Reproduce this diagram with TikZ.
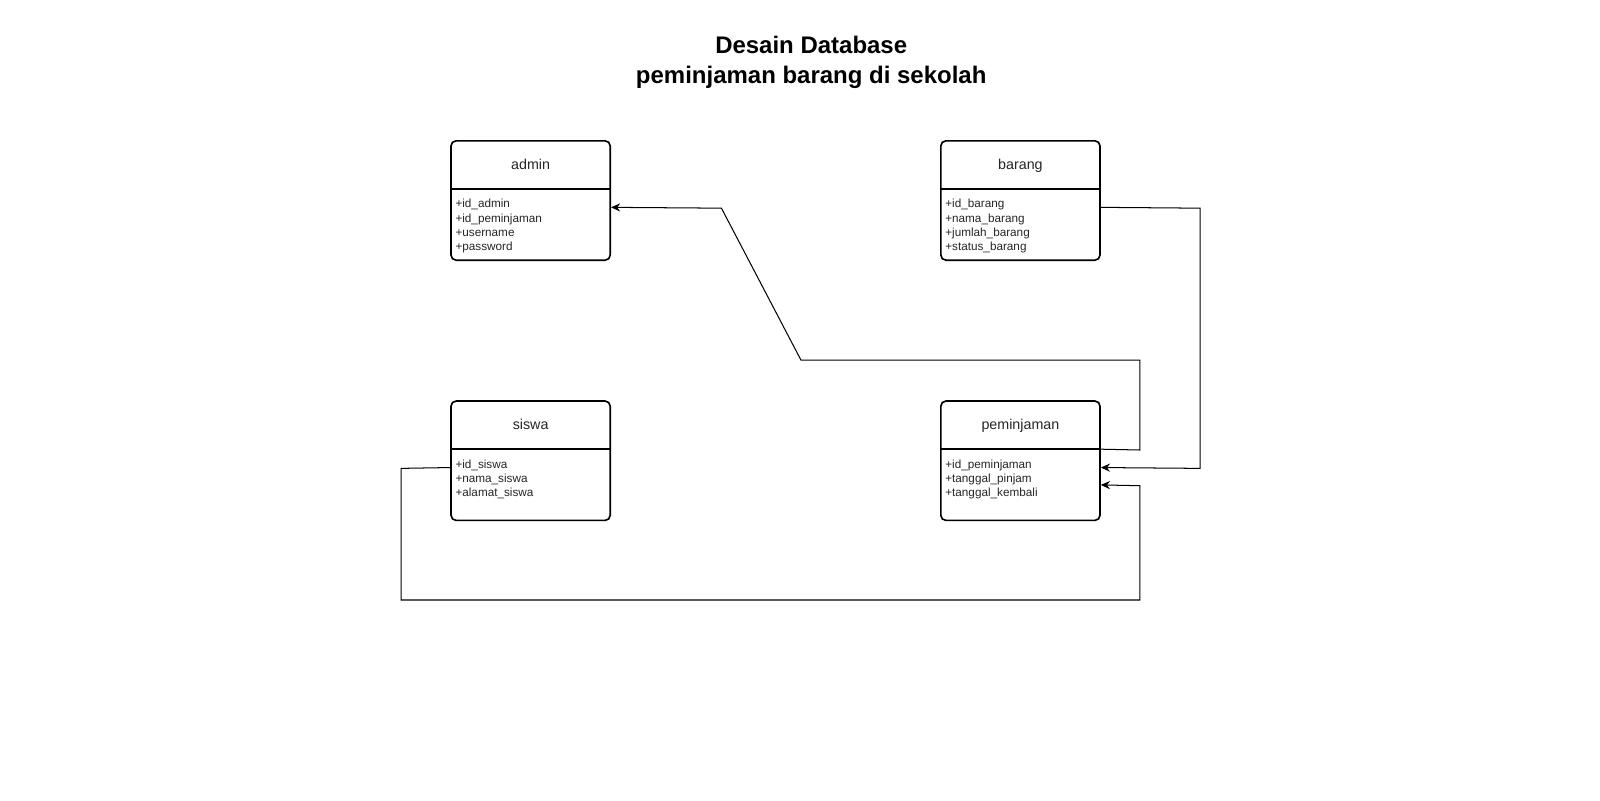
\documentclass[tikz,border=0pt]{standalone}
\usepackage{fontspec}
\setmainfont{Liberation Sans}
\usetikzlibrary{arrows.meta,calc}
\begin{document}
\begin{tikzpicture}[x=1pt,y=-1pt,
  entity/.style={draw=black,line width=1.6pt,rounded corners=5pt,minimum width=156pt,minimum height=117pt,inner sep=0pt,fill=white},
  etitle/.style={font=\fontsize{14}{16}\selectfont,text=black!85,inner sep=0pt,anchor=base},
  attrs/.style={font=\fontsize{11.5}{14}\selectfont,text=black!85,align=left,inner sep=0pt,anchor=north west},
  conn/.style={draw=black,line width=1pt},
  tip/.style={-{Stealth[length=9pt,width=8pt,inset=3pt]}}]
\useasboundingbox (0,0) rectangle (1568,784);
\fill[white] (0,0) rectangle (1568,784);

\node[font=\bfseries\fontsize{23.5}{29}\selectfont,align=center] (title) at (795,61) {Desain Database\\peminjaman barang di sekolah};

% entities
\node[entity] (admin) at (520,196.5) {};
\node[entity] (barang) at (1000,196.5) {};
\node[entity] (siswa) at (520,451.5) {};
\node[entity] (pem) at (1000,451.5) {};

\foreach \e in {admin,barang,siswa,pem}{
  \draw[line width=1.6pt] ($(\e.north west)+(0,48)$) -- ($(\e.north east)+(0,48)$);
}

\node[etitle] (admint) at ($(admin.north)+(0,29)$) {admin};
\node[etitle] (barangt) at ($(barang.north)+(0,29)$) {barang};
\node[etitle] (siswat) at ($(siswa.north)+(0,29)$) {siswa};
\node[etitle] (pemt) at ($(pem.north)+(0,29)$) {peminjaman};

\node[attrs] (admina) at ($(admin.north west)+(5,58)$) {+id\_admin\\+id\_peminjaman\\+username\\+password};
\node[attrs] (baranga) at ($(barang.north west)+(5,58)$) {+id\_barang\\+nama\_barang\\+jumlah\_barang\\+status\_barang};
\node[attrs] (siswaa) at ($(siswa.north west)+(5,58)$) {+id\_siswa\\+nama\_siswa\\+alamat\_siswa};
\node[attrs] (pema) at ($(pem.north west)+(5,58)$) {+id\_peminjaman\\+tanggal\_pinjam\\+tanggal\_kembali};

% connectors
\coordinate (c1a) at (1117,441);
\coordinate (c1b) at (1117,353);
\coordinate (c1c) at (785,353);
\coordinate (c1d) at (707,204);
\draw[conn,tip] ($(pem.north east)+(0,48)$) -- (c1a) -- (c1b) -- (c1c) -- (c1d) -- ($(admin.north east)+(0,66)$);

\coordinate (c2a) at (1176,204);
\coordinate (c2b) at (1176,459);
\draw[conn,tip] ($(barang.north east)+(0,66)$) -- (c2a) -- (c2b) -- ($(pem.north east)+(0,66)$);

\coordinate (c3a) at (393,459);
\coordinate (c3b) at (393,588);
\coordinate (c3c) at (1117,588);
\coordinate (c3d) at (1117,476);
\draw[conn,tip] ($(siswa.north west)+(0,66)$) -- (c3a) -- (c3b) -- (c3c) -- (c3d) -- ($(pem.north east)+(0,83)$);
\end{tikzpicture}
\end{document}
